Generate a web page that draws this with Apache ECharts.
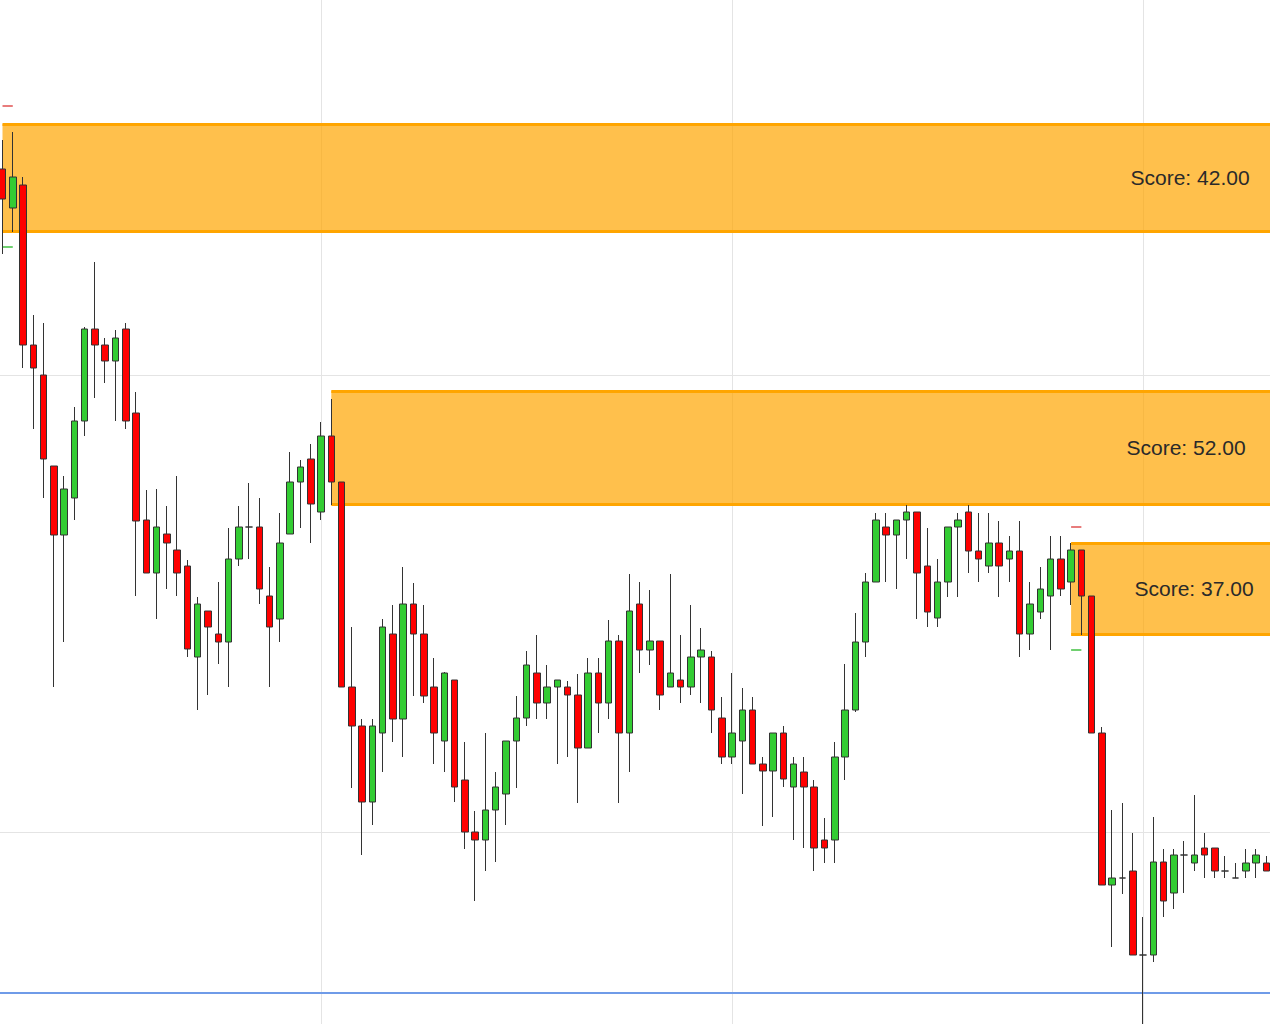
<!DOCTYPE html>
<html>
<head>
<meta charset="utf-8">
<title>Candlestick with supply zones</title>
<script src="https://cdn.jsdelivr.net/npm/echarts@6/dist/echarts.min.js"></script>
<style>
  html, body { margin: 0; padding: 0; background: #ffffff; }
  #chart { width: 1270px; height: 1024px; }
</style>
</head>
<body>
<div id="chart"></div>
<script>
// ---- Data (price units) ----
const opens = [
  1120,1081,1104,944,914,823,754,791,868,960,
  944,928,960,876,769,716,755,739,723,632,
  678,655,647,730,762,762,693,670,755,807,
  830,777,853,807,602,563,487,556,655,570,
  685,655,602,548,609,509,457,449,479,495,
  548,571,616,586,602,602,594,541,616,586,
  648,556,685,639,648,602,609,602,632,632,
  571,532,548,579,525,518,556,502,517,502,
  449,449,532,579,647,707,762,754,769,777,
  723,671,707,762,777,738,723,746,730,738,
  655,677,693,730,707,739,693,556,404,411,
  418,334,334,427,396,434,426,441,441,418,
  411,418,426,426
];
const closes = [
  1090,1112,944,921,830,754,800,868,960,944,
  928,951,868,768,716,762,746,716,640,685,
  662,647,730,762,762,700,662,746,807,822,
  785,853,807,602,563,487,563,662,570,685,
  655,593,556,616,502,457,449,479,502,548,
  571,624,586,602,609,594,541,616,586,648,
  556,678,639,648,594,616,602,632,639,579,
  532,556,579,525,518,556,510,525,502,441,
  441,532,579,647,707,769,754,769,777,716,
  677,707,762,769,738,730,746,723,738,655,
  685,700,730,700,739,693,556,404,411,411,
  334,334,427,388,434,434,434,434,418,418,
  411,426,434,418
];
const lows = [
  1035,1057,921,860,791,602,647,769,853,891,
  906,868,860,693,716,670,700,693,632,579,
  594,625,602,723,730,685,602,647,755,761,
  746,769,784,602,501,434,464,517,547,532,
  593,586,525,517,487,440,388,418,427,464,
  501,563,570,570,525,532,486,541,556,570,
  486,517,616,624,579,602,586,594,586,556,
  525,525,495,525,463,472,502,449,441,418,
  426,426,509,577,632,707,707,700,730,670,
  662,662,692,692,716,707,716,692,707,632,
  639,670,639,693,684,654,556,404,342,395,
  334,259,327,372,380,396,418,411,411,411,
  411,411,411,418
];
const highs = [
  1149,1157,1112,974,966,823,813,882,962,1027,
  951,959,966,897,799,800,783,813,729,692,
  678,707,761,783,806,791,722,776,837,829,
  845,867,890,807,662,570,570,670,684,722,
  706,684,631,617,609,547,478,556,517,548,
  593,638,654,624,609,608,615,631,631,669,
  654,715,707,699,648,715,654,684,661,638,
  592,616,601,592,532,556,563,532,532,509,
  471,547,625,676,716,776,776,769,784,777,
  761,730,762,776,784,776,776,768,753,768,
  707,722,753,753,746,739,693,562,479,486,
  456,372,472,440,440,448,494,456,441,433,
  426,440,440,433
];

// Zones (start candle index, top, bottom, score label)
const zoneStart  = [0, 32, 104];
const zoneTop    = [1165, 898, 746];
const zoneBottom = [1058, 785, 654.5];
const zoneLabels = ['Score: 42.00', 'Score: 52.00', 'Score: 37.00'];
// marker levels just outside zones 1 and 3
const markerZones  = [0, 2];
const markerUpper  = [1183, 762];
const markerLower  = [1042, 639];
// support line
const supportLevel = 296;

// y-axis grid levels
const yMin = 0, yMax = 1371, yStep = 457;

// ---- Build options ----
// one empty slot before the first candle and one after the last,
// so the plot area runs past both edges of the picture
const OFF = 1;
const categories = [''].concat(opens.map((_, i) => String(i)), ['']);
const lastIdx = categories.length - 1;

const candleData = [['-', '-', '-', '-']].concat(
  opens.map((o, i) => [o, closes[i], lows[i], highs[i]])
);

const labelDist = [27, 31, 23];
const areaData = zoneStart.map((s, k) => [
  {
    xAxis: s + OFF, yAxis: zoneTop[k], name: zoneLabels[k],
    label: {
      show: true, position: 'insideRight', distance: labelDist[k],
      fontSize: 21, color: '#2a2a2a', fontFamily: 'Liberation Sans, Arial, sans-serif'
    }
  },
  { xAxis: lastIdx, yAxis: zoneBottom[k] }
]);

const orangeLine = { color: '#FFA500', width: 3, type: 'solid' };
const lineData = [];
zoneStart.forEach((s, k) => {
  lineData.push([{ xAxis: s + OFF, yAxis: zoneTop[k], lineStyle: orangeLine }, { xAxis: lastIdx, yAxis: zoneTop[k] }]);
  lineData.push([{ xAxis: s + OFF, yAxis: zoneBottom[k], lineStyle: orangeLine }, { xAxis: lastIdx, yAxis: zoneBottom[k] }]);
});
markerZones.forEach((z, m) => {
  const s = zoneStart[z] + OFF;
  lineData.push([{ xAxis: s, yAxis: markerUpper[m], lineStyle: { color: '#e05050', width: 1.5, type: 'solid' } }, { xAxis: s + 1, yAxis: markerUpper[m] }]);
  lineData.push([{ xAxis: s, yAxis: markerLower[m], lineStyle: { color: '#40c040', width: 1.5, type: 'solid' } }, { xAxis: s + 1, yAxis: markerLower[m] }]);
});
lineData.push({ yAxis: supportLevel, lineStyle: { color: '#6f9be8', width: 2, type: 'solid' } });

const chart = echarts.init(document.getElementById('chart'), null, { renderer: 'svg' });
chart.setOption({
  animation: false,
  backgroundColor: '#ffffff',
  grid: {
    left: -7.775, right: -6.6, top: -82, bottom: -265,
    containLabel: false,
    outerBoundsMode: 'none'
  },
  xAxis: {
    type: 'category',
    data: categories,
    boundaryGap: false,
    axisLine: { show: false },
    axisTick: { show: false },
    axisLabel: { show: false },
    splitLine: {
      show: true,
      interval: (idx) => idx % 40 === 32,
      lineStyle: { color: '#e4e4e4', width: 1 }
    }
  },
  yAxis: {
    type: 'value',
    min: yMin, max: yMax, interval: yStep,
    scale: false,
    axisLine: { show: false },
    axisTick: { show: false },
    axisLabel: { show: false },
    splitLine: { show: true, lineStyle: { color: '#e4e4e4', width: 1 } }
  },
  series: [{
    type: 'candlestick',
    data: candleData,
    barWidth: 7,
    itemStyle: {
      color: '#33cc33',
      color0: '#ff0000',
      borderColor: '#333333',
      borderColor0: '#333333',
      borderWidth: 1
    },
    markArea: {
      silent: true,
      z: 1,
      itemStyle: { color: 'rgba(255,165,0,0.7)', borderWidth: 0 },
      data: areaData
    },
    markLine: {
      silent: true,
      z: 1,
      symbol: ['none', 'none'],
      label: { show: false },
      data: lineData
    }
  }]
});
</script>
</body>
</html>
